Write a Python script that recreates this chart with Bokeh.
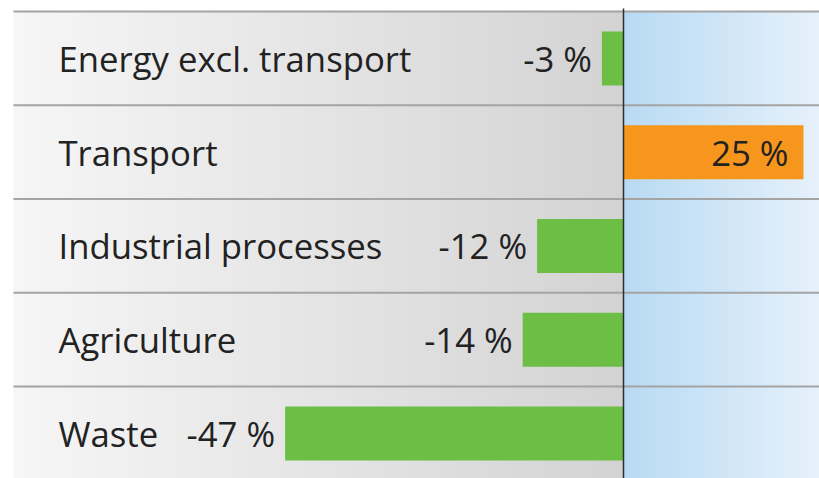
import numpy as np
from bokeh.plotting import figure
from bokeh.models import Range1d, ColumnDataSource
from bokeh.core.properties import value
from bokeh.embed import file_html
from bokeh.resources import INLINE

# ---- data ----
categories = ["Energy excl. transport", "Transport", "Industrial processes", "Agriculture", "Waste"]
changes = [-3, 25, -12, -14, -47]
value_labels = ["-3 %", "25 %", "-12 %", "-14 %", "-47 %"]

# ---- layout constants ----
W, H = 819, 478
PX_PER_UNIT = 7.2
ZERO_PX = 623
ROW_PX = 93.75
TOP_PX = 11
x_start = -ZERO_PX / PX_PER_UNIT
x_end = (W - ZERO_PX) / PX_PER_UNIT
y_top = -TOP_PX / ROW_PX
y_bottom = (H - TOP_PX) / ROW_PX
left_edge = x_start + 13 / PX_PER_UNIT
label_x = x_start + 58 / PX_PER_UNIT
n = len(categories)
FONT_SIZE = "34.7px"

p = figure(width=W, height=H, output_backend="svg", toolbar_location=None,
           x_range=Range1d(x_start, x_end), y_range=Range1d(y_bottom, y_top),
           x_axis_location=None, y_axis_location=None, min_border=0)
p.grid.visible = False
p.outline_line_color = None
p.background_fill_color = "white"
p.border_fill_color = "white"


def gradient(c0, c1, steps=256):
    t = np.linspace(0.0, 1.0, steps)
    img = np.empty((1, steps), dtype=np.uint32)
    view = img.view(dtype=np.uint8).reshape((1, steps, 4))
    for i in range(3):
        view[0, :, i] = np.round(c0[i] + (c1[i] - c0[i]) * t).astype(np.uint8)
    view[0, :, 3] = 255
    return img


# backgrounds
p.image_rgba(image=[gradient((246, 246, 246), (211, 211, 212))], x=left_edge, y=0,
             dw=0 - left_edge, dh=y_bottom)
p.image_rgba(image=[gradient((184, 218, 243), (230, 241, 251))], x=0, y=0,
             dw=x_end, dh=y_bottom)

# row separators
rows = list(range(n))
p.segment(x0=[left_edge] * n, x1=[x_end] * n, y0=rows, y1=rows,
          line_color="#a4a4a4", line_width=2)

# bars
centers = [r + 0.5 for r in rows]
colors = ["#f7961d" if v > 0 else "#6dbe45" for v in changes]
src = ColumnDataSource(dict(y=centers, right=changes, color=colors, cat=categories,
                            lx=[label_x] * n))
p.hbar(y="y", left=0, right="right", height=54 / ROW_PX, fill_color="color",
       line_color=None, source=src)

# zero line
p.segment(x0=[0], x1=[0], y0=[y_top + 8 / ROW_PX], y1=[y_bottom], line_color="#2e2e2e",
          line_width=1.5)

# category labels
p.text(x="lx", y="y", text="cat", source=src, text_font=value("Open Sans"),
       text_font_size=FONT_SIZE, text_color="#222222", text_baseline="middle",
       text_align="left")

# value labels
neg = [i for i, v in enumerate(changes) if v < 0]
pos = [i for i, v in enumerate(changes) if v > 0]
neg_src = ColumnDataSource(dict(x=[changes[i] for i in neg],
                                y=[centers[i] for i in neg],
                                t=[value_labels[i] for i in neg]))
pos_src = ColumnDataSource(dict(x=[changes[i] for i in pos],
                                y=[centers[i] for i in pos],
                                t=[value_labels[i] for i in pos]))
p.text(x="x", y="y", text="t", source=neg_src, x_offset=-10, text_font=value("Open Sans"),
       text_font_size=FONT_SIZE, text_color="#222222", text_baseline="middle",
       text_align="right")
p.text(x="x", y="y", text="t", source=pos_src, x_offset=-15, text_font=value("Open Sans"),
       text_font_size=FONT_SIZE, text_color="#222222", text_baseline="middle",
       text_align="right")

open("out.html", "w").write(file_html(p, INLINE))
